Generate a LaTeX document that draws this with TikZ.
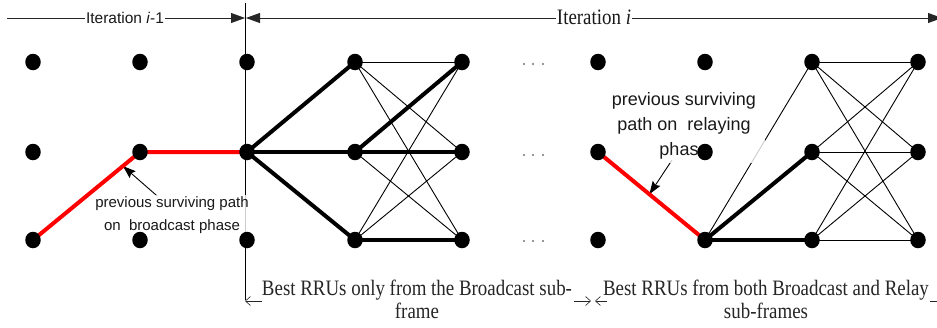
\documentclass[tikz,border=0pt]{standalone}
\usepackage{fontspec}
\setmainfont{Liberation Serif}
\newfontfamily\annfont{Liberation Sans}
\newfontfamily\capfont[FakeStretch=0.86]{Liberation Serif}
\usetikzlibrary{arrows.meta,calc,shapes.geometric}
\pgfdeclarelayer{edges}
\pgfdeclarelayer{boxes}
\pgfdeclarelayer{paths}
\pgfsetlayers{edges,boxes,paths,main}

\tikzset{
  dot/.style={ellipse,fill=black,inner sep=0pt,minimum width=15.5pt,minimum height=16.5pt},
  link/.style={line width=0.9pt},
  best/.style={line width=4pt},
  survivor/.style={line width=4pt,draw=red},
  annbox/.style={fill=white,fill opacity=0.8,text opacity=1,align=center,text=black!90},
  pointer/.style={line width=0.9pt,-{Stealth[length=13pt,width=9pt,inset=2pt]}},
  ruler/.style={line width=0.8pt,draw=black!85},
  rtip/.tip={Triangle[length=14pt,width=10pt]},
  rulerlabel/.style={fill=white,inner xsep=1pt,inner ysep=0pt,text=black!90},
  caption/.style={align=center,text=black!85,inner sep=0pt,
    font=\capfont\fontsize{22}{23}\selectfont},
  dim/.style={line width=0.6pt,draw=black!85,-{Straight Barb[length=5pt,width=9pt]}}
}

\begin{document}
\begin{tikzpicture}[x=1pt,y=-1pt]
\useasboundingbox (0,0) rectangle (937,327);

% trellis states: columns a..k, rows 1..3
\foreach \n/\x in {a/33,b/140,c/247,d/355,e/462,f/598,g/705,h/812,k/918}
  \foreach \r/\y in {1/62,2/152,3/240}
    \node[dot] (\n\r) at (\x,\y) {};

% omitted stages
\foreach \y in {64,155,241}
  \foreach \x in {524,533,543}
    \fill[black!55] (\x,\y) circle (1.1pt);

% all candidate transitions
\begin{pgfonlayer}{edges}
  \draw[line width=0.8pt] (245,3) coordinate (vt) -- (245,300) coordinate (vb);
  \foreach \u in {1,2,3}
    \foreach \v in {1,2,3} {
      \draw[link] (d\u.center) -- (e\v.center);
      \draw[link] (h\u.center) -- (k\v.center);
    }
  \draw[link] (g3.center) -- (h1.center);
\end{pgfonlayer}

% annotations
\begin{pgfonlayer}{boxes}
  \node[annbox,inner sep=2pt,font=\annfont\fontsize{15}{23}\selectfont]
    (annA) at (172,215.5) {previous surviving path\\on\ \ broadcast phase};
  \node[annbox,inner xsep=9pt,inner ysep=4pt,font=\annfont\fontsize{18}{25}\selectfont]
    (annB) at (684,125.5) {previous surviving\\path on\ \ relaying\\phase};
\end{pgfonlayer}
\begin{pgfonlayer}{edges}
  \draw[pointer] ($(annA.north)+(-15,1)$) -- ($(a3)!0.84!(b2)$);
  \draw[pointer] ($(annB.south)+(-12,-3)$) -- ($(f2)!0.48!(g3)$);
\end{pgfonlayer}

% surviving and best paths
\begin{pgfonlayer}{paths}
  \draw[survivor] (a3.center) -- (b2.center) -- (c2.center);
  \draw[survivor] (f2.center) -- (g3.center);
  \foreach \u/\v in {c2/d1,c2/d2,c2/d3,d2/e1,d2/e2,d3/e3,g3/h2,g3/h3}
    \draw[best] (\u.center) -- (\v.center);
\end{pgfonlayer}

% iteration ruler
\coordinate (L0) at (7,18);
\coordinate (L1) at (245,18);
\coordinate (R0) at (246,18);
\coordinate (R1) at (942,18);
\draw[ruler,-{rtip}] (L0) -- (L1);
\draw[ruler,{rtip}-{rtip}] (R0) -- (R1);
\node[rulerlabel,anchor=base,font=\annfont\fontsize{15.5}{18}\selectfont]
  (itA) at (125,23) {Iteration \textit{i}-1};
\node[rulerlabel,anchor=base,font=\capfont\fontsize{22}{24}\selectfont]
  (itB) at (594,24) {Iteration \textit{i}};

% sub-frame spans
\node[caption] (capA) at (417,299) {Best RRUs only from the Broadcast sub-\\frame};
\node[caption] (capB) at (766,299) {Best RRUs from both Broadcast and Relay\\sub-frames};
\draw[dim] (262,301) coordinate (dA0) -- (245,301) coordinate (dA1);
\draw[dim] (574,301) coordinate (dB0) -- (591,301) coordinate (dB1);
\draw[dim] (607,301) coordinate (dC0) -- (595,301) coordinate (dC1);
\draw[dim] (930,301) coordinate (dD0) -- (946,301) coordinate (dD1);
\end{tikzpicture}
\end{document}
